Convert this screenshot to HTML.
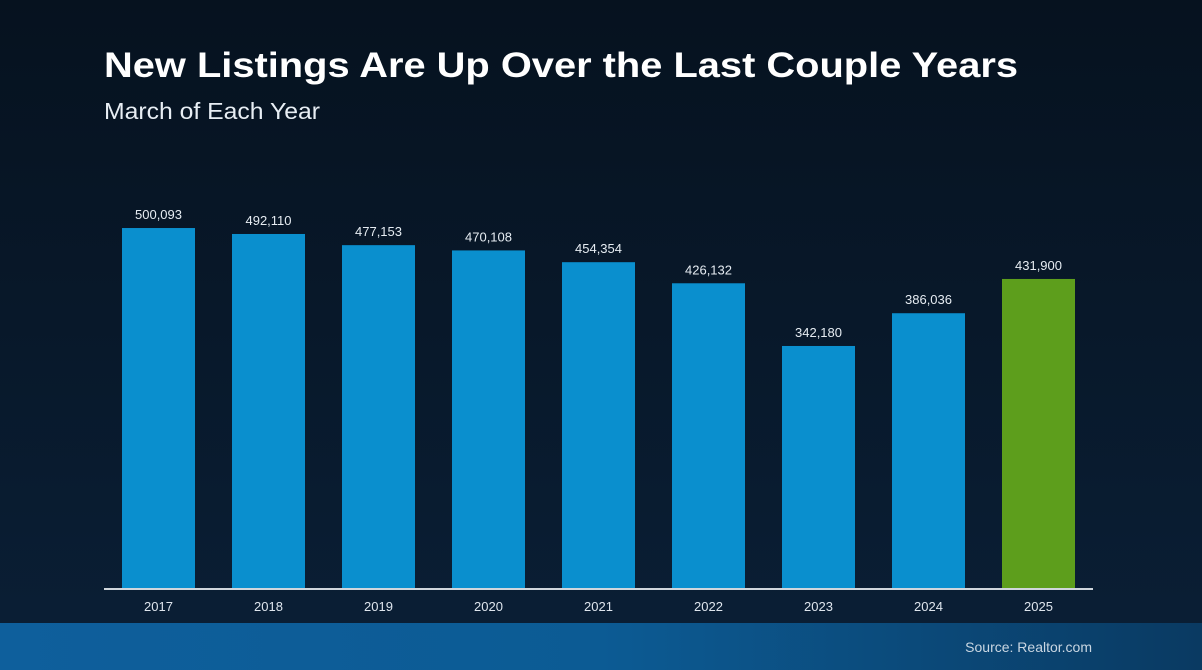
<!DOCTYPE html>
<html><head><meta charset="utf-8"><style>
html,body{margin:0;padding:0;width:1202px;height:670px;overflow:hidden;background:#061626;}
svg{display:block;font-family:"Liberation Sans",sans-serif;}
</style></head><body>
<svg id="chart" width="1202" height="670" viewBox="0 0 1202 670">
<defs>
<linearGradient id="bg" x1="0" y1="0" x2="0" y2="1"><stop offset="0" stop-color="#06121f"/><stop offset="1" stop-color="#0a1f36"/></linearGradient>
<linearGradient id="foot" x1="0" y1="0" x2="1" y2="0"><stop offset="0" stop-color="#0e5f9c"/><stop offset="0.5" stop-color="#0c5b94"/><stop offset="1" stop-color="#0a3a62"/></linearGradient>
</defs>
<rect width="1202" height="670" fill="url(#bg)"/>
<text x="104" y="77" font-size="35" font-weight="bold" fill="#ffffff" textLength="914" lengthAdjust="spacingAndGlyphs">New Listings Are Up Over the Last Couple Years</text>
<text x="104" y="119" font-size="23" fill="#e8eef4" textLength="216" lengthAdjust="spacingAndGlyphs">March of Each Year</text>
<g id="bars"></g>
<line x1="104" y1="589" x2="1093" y2="589" stroke="#d0d6dc" stroke-width="2"/>
<rect x="0" y="623" width="1202" height="47" fill="url(#foot)"/>
<text x="1092" y="652" font-size="14" fill="#c9d6e2" text-anchor="end">Source: Realtor.com</text>
</svg>
<script>
const categories = ["2017","2018","2019","2020","2021","2022","2023","2024","2025"];
const values = [500093, 492110, 477153, 470108, 454354, 426132, 342180, 386036, 431900];
const valueLabels = ["500,093","492,110","477,153","470,108","454,354","426,132","342,180","386,036","431,900"];
const highlight = [false,false,false,false,false,false,false,false,true];

const NS = "http://www.w3.org/2000/svg";
const baseY = 588, k = 0.000747, v0 = 18193;
function yScale(v){ return baseY - (v - v0) * k; }
function xCenter(i){ return 158.5 + i * 110; }
const barW = 73;
const g = document.getElementById('bars');
categories.forEach((c, i) => {
  const y = yScale(values[i]);
  const r = document.createElementNS(NS, 'rect');
  
  
  r.setAttribute('x', xCenter(i) - barW / 2);
  r.setAttribute('y', y);
  r.setAttribute('width', barW);
  r.setAttribute('height', baseY - y);
  r.setAttribute('fill', highlight[i] ? '#5d9e1c' : '#0a8fce');
  g.appendChild(r);
  const t = document.createElementNS(NS, 'text');
  
  
  t.setAttribute('x', xCenter(i));
  t.setAttribute('y', y - 9);
  t.setAttribute('text-anchor', 'middle');
  t.setAttribute('font-size', '13');
  t.setAttribute('fill', '#e6ecf2');
  t.textContent = valueLabels[i];
  g.appendChild(t);
  const xl = document.createElementNS(NS, 'text');
  
  
  xl.setAttribute('x', xCenter(i));
  xl.setAttribute('y', 611);
  xl.setAttribute('text-anchor', 'middle');
  xl.setAttribute('font-size', '13');
  xl.setAttribute('fill', '#dfe6ee');
  xl.textContent = c;
  g.appendChild(xl);
});
</script>
</body></html>
